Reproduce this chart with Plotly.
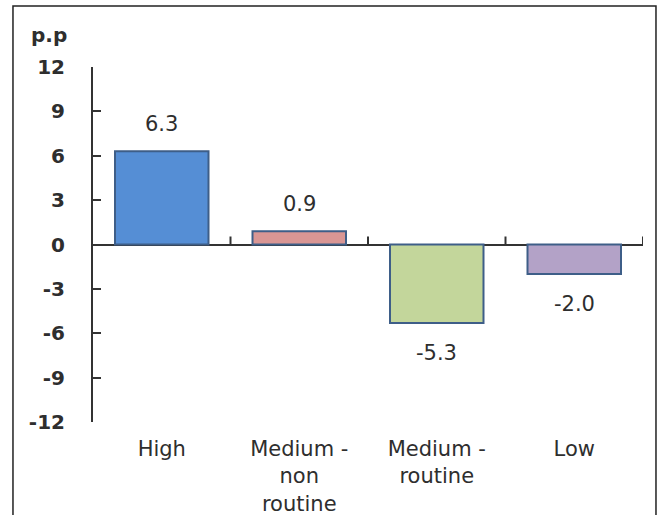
import plotly.graph_objects as go

categories = ["High", "Medium -<br>non<br>routine", "Medium -<br>routine", "Low"]
values = [6.3, 0.9, -5.3, -2.0]
labels = ["6.3", "0.9", "-5.3", "-2.0"]
colors = ["#558ED5", "#D99694", "#C3D69B", "#B3A2C7"]
y_ticks = [-12, -9, -6, -3, 0, 3, 6, 9, 12]

FONT = "DejaVu Sans"
TXT = "#2E2E2E"

fig = go.Figure()
fig.add_trace(go.Bar(
    x=categories, y=values,
    marker=dict(color=colors, line=dict(color="#3E5E88", width=2)),
    width=0.68,
    hoverinfo="skip",
))

# data labels
for c, v, t in zip(categories, values, labels):
    fig.add_annotation(x=c, y=v, text=t, showarrow=False,
                       yshift=27 if v >= 0 else -30,
                       font=dict(family=FONT, size=21, color=TXT))

# boundary tick marks on the zero line
for xb in [0.5, 1.5, 2.5, 3.5]:
    fig.add_shape(type="line", xref="x", yref="y", x0=xb, x1=xb,
                  ysizemode="pixel", yanchor=0, y0=0, y1=8,
                  line=dict(color="#333333", width=2))

# frame
fig.add_shape(type="rect", xref="paper", yref="paper",
              x0=-0.1455, x1=1.0236, y0=-0.4, y1=1.1718,
              line=dict(color="#222222", width=1.5))

# unit label
fig.add_annotation(xref="paper", yref="paper", x=-0.08, y=1.0 + (67 - 35) / 355,
                   text="<b>p.p</b>", showarrow=False, xanchor="center", yanchor="middle",
                   font=dict(family=FONT, size=20, color=TXT))

fig.update_layout(
    width=659, height=515,
    margin=dict(l=93, r=16, t=67, b=93),
    paper_bgcolor="white", plot_bgcolor="white",
    showlegend=False,
    xaxis=dict(type="category", range=[-0.5, 3.5], showline=False, ticks="",
               showgrid=False, zeroline=False, automargin=False,
               tickfont=dict(family=FONT, size=21, color=TXT),
               ticklabelstandoff=12),
    yaxis=dict(range=[-12, 12], tickvals=y_ticks, ticktext=[str(v) for v in y_ticks],
               showline=True, linecolor="#333333", linewidth=2, automargin=False,
               ticks="inside", ticklen=8, tickwidth=2, tickcolor="#333333",
               showgrid=False, zeroline=True, zerolinecolor="#333333", zerolinewidth=2,
               tickfont=dict(family=FONT, size=20, color=TXT, weight="bold"),
               ticklabelstandoff=22),
)

fig.write_html("out.html")
